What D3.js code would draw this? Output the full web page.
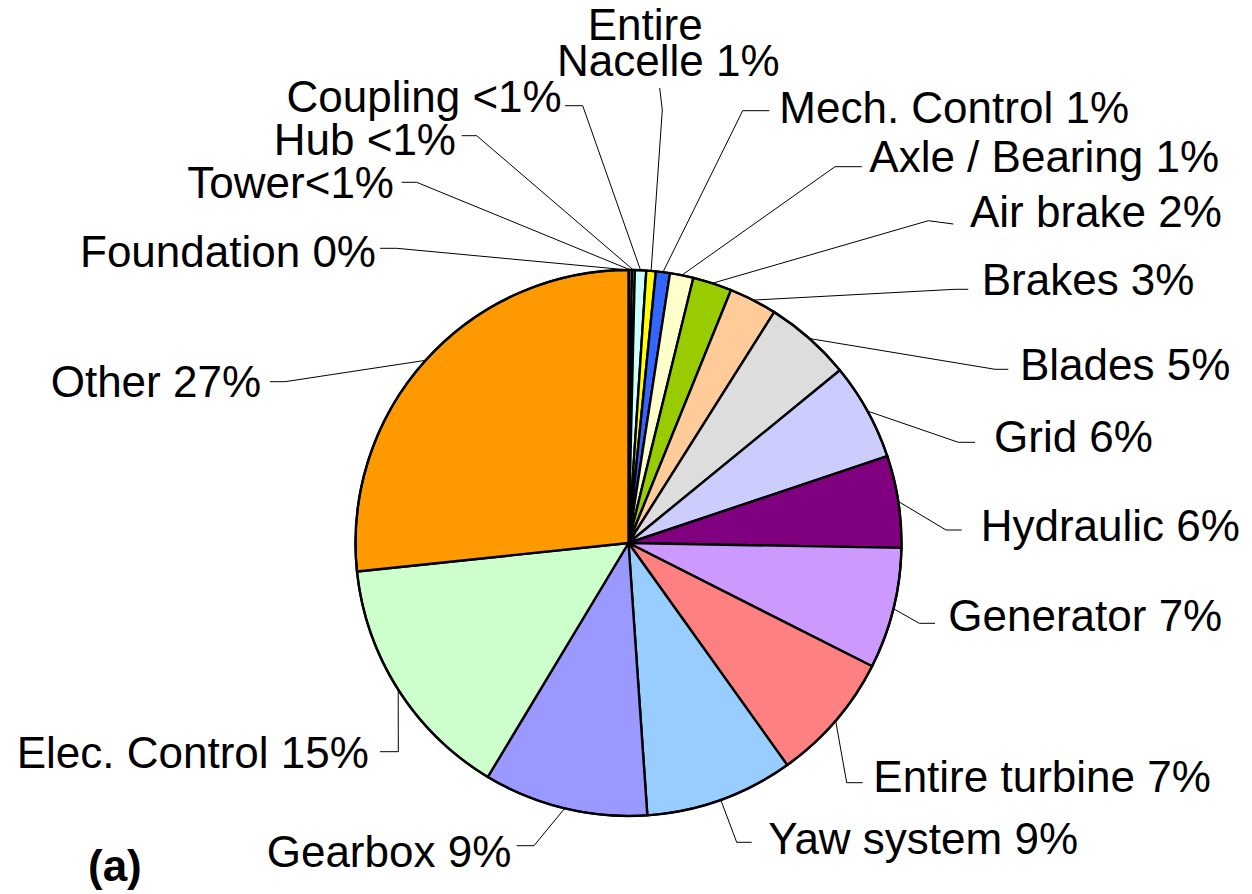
<!DOCTYPE html>
<html>
<head>
<meta charset="utf-8">
<script src="https://cdn.jsdelivr.net/npm/d3@7"></script>
<style>
  html, body { margin: 0; padding: 0; background: #fff; }
  svg { display: block; }
  text { font-family: "Liberation Sans", Arial, sans-serif; }
</style>
</head>
<body>
<svg id="chart" width="1252" height="894"></svg>
<script>
// ---- Data ----
const categories = ["Foundation", "Tower", "Hub", "Coupling", "Entire Nacelle", "Mech. Control",
  "Axle / Bearing", "Air brake", "Brakes", "Blades", "Grid", "Hydraulic", "Generator",
  "Entire turbine", "Yaw system", "Gearbox", "Elec. Control", "Other"];
const shares = [0.03, 0.17, 0.17, 0.67, 0.56, 0.83, 1.39, 2.31, 2.83, 5.14, 5.75, 5.44, 7.17,
  7.67, 8.78, 9.72, 14.72, 26.67];
const pctLabels = ["0%", "<1%", "<1%", "<1%", "1%", "1%", "1%", "2%", "3%", "5%", "6%", "6%", "7%",
  "7%", "9%", "9%", "15%", "27%"];
const labelLines = [
  ["Foundation 0%"], ["Tower<1%"], ["Hub <1%"], ["Coupling <1%"], ["Entire", "Nacelle 1%"],
  ["Mech. Control 1%"], ["Axle / Bearing 1%"], ["Air brake 2%"], ["Brakes 3%"], ["Blades 5%"],
  ["Grid 6%"], ["Hydraulic 6%"], ["Generator 7%"], ["Entire turbine 7%"], ["Yaw system 9%"],
  ["Gearbox 9%"], ["Elec. Control 15%"], ["Other 27%"]
];
const colors = ["#FFFFCC", "#FFFFCC", "#FFFFEE", "#CCFFFF", "#FFFF00", "#3366FF", "#FFFFCC", "#99CC00",
  "#FFCC99", "#DDDDDD", "#CCCCFF", "#800080", "#CC99FF", "#FF8080", "#99CCFF", "#9999FF",
  "#CCFFCC", "#FF9900"];

// ---- Layout (label placement, separate from data) ----
const cx = 628.5, cy = 543, R = 273;
const labelLayout = [
  { anchor: "end",   pos: [[376, 266.7]],            leader: [[396.7, 248.3], [380, 248.3]] },
  { anchor: "end",   pos: [[394, 198.3]],            leader: [[416.7, 182.3], [401.7, 182.3]] },
  { anchor: "end",   pos: [[456, 155]],              leader: [[476.7, 135.7], [461.7, 135.7]] },
  { anchor: "end",   pos: [[561.7, 111.7]],          leader: [[582.7, 105.7], [565, 105.7]] },
  { anchor: "start", pos: [[587.7, 40], [557, 76]],  leader: [[662.3, 110], [659.7, 88]] },
  { anchor: "start", pos: [[779.3, 123.3]],          leader: [[742.7, 110.7], [769.3, 110.7]] },
  { anchor: "start", pos: [[869.3, 171.7]],          leader: [[835, 166.7], [861.7, 166.7]] },
  { anchor: "start", pos: [[970, 226.7]],            leader: [[928.3, 220.7], [953.3, 224]] },
  { anchor: "start", pos: [[981.7, 295]],            leader: [[955, 289.3], [968.3, 289.3]] },
  { anchor: "start", pos: [[1020, 380]],             leader: [[995, 369.3], [1008.3, 369.3]] },
  { anchor: "start", pos: [[994, 451.7]],            leader: [[958.3, 442.3], [975, 442.3]] },
  { anchor: "start", pos: [[980.7, 540.7]],          leader: [[946, 530], [961.7, 530]] },
  { anchor: "start", pos: [[948.3, 630.7]],          leader: [[919.3, 623.3], [935, 623.3]] },
  { anchor: "start", pos: [[873.3, 791.7]],          leader: [[846.7, 782.7], [862.7, 782.7]] },
  { anchor: "start", pos: [[768.3, 854]],            leader: [[736.7, 842.3], [751.7, 842.3]] },
  { anchor: "start", pos: [[266.7, 866.7]],          leader: [[534, 845.7], [516.7, 845.7]] },
  { anchor: "start", pos: [[16.7, 768.3]],           leader: [[398.3, 751.7], [380, 751.7]] },
  { anchor: "start", pos: [[50.7, 396.7]],           leader: [[285, 381.7], [270, 381.7]] }
];

const data = categories.map((c, i) => ({ name: c, value: shares[i], pct: pctLabels[i], color: colors[i], lines: labelLines[i], layout: labelLayout[i] }));

const svg = d3.select("#chart");
const g = svg.append("g").attr("transform", `translate(${cx},${cy})`);

const pie = d3.pie().value(d => d.value).sort(null).startAngle(0).endAngle(2 * Math.PI);
const arcs = pie(data);
const arc = d3.arc().innerRadius(0).outerRadius(R);
const edgeArc = d3.arc().innerRadius(R).outerRadius(R);

// slices
g.selectAll("path.slice").data(arcs).join("path")
  .attr("class", "slice")
  .attr("d", arc)
  .attr("fill", d => d.data.color)
  .attr("stroke", "#000")
  .attr("stroke-width", 2.4)
  .attr("stroke-linejoin", "round");

// outer rim
g.append("circle").attr("r", R).attr("fill", "none").attr("stroke", "#000").attr("stroke-width", 2.2);

// leader lines
const line = d3.line();
svg.selectAll("path.leader").data(arcs).join("path")
  .attr("class", "leader")
  .attr("d", d => {
    const c = edgeArc.centroid(d);
    const pts = [[cx + c[0], cy + c[1]]].concat(d.data.layout.leader);
    return line(pts);
  })
  .attr("fill", "none")
  .attr("stroke", "#000")
  .attr("stroke-width", 1);

// labels (multi-line labels as one text with tspans)
arcs.forEach(d => {
  const lay = d.data.layout;
  const t = svg.append("text")
    .attr("text-anchor", lay.anchor)
    .attr("font-size", 44)
    .attr("fill", "#000");
  d.data.lines.forEach((s, j) => {
    t.append("tspan").attr("x", lay.pos[j][0]).attr("y", lay.pos[j][1]).text(s);
  });
});

// panel tag
svg.append("text").attr("x", 88).attr("y", 881)
  .attr("font-size", 44).attr("font-weight", "bold").attr("fill", "#000")
  .text("(a)");
</script>
</body>
</html>
